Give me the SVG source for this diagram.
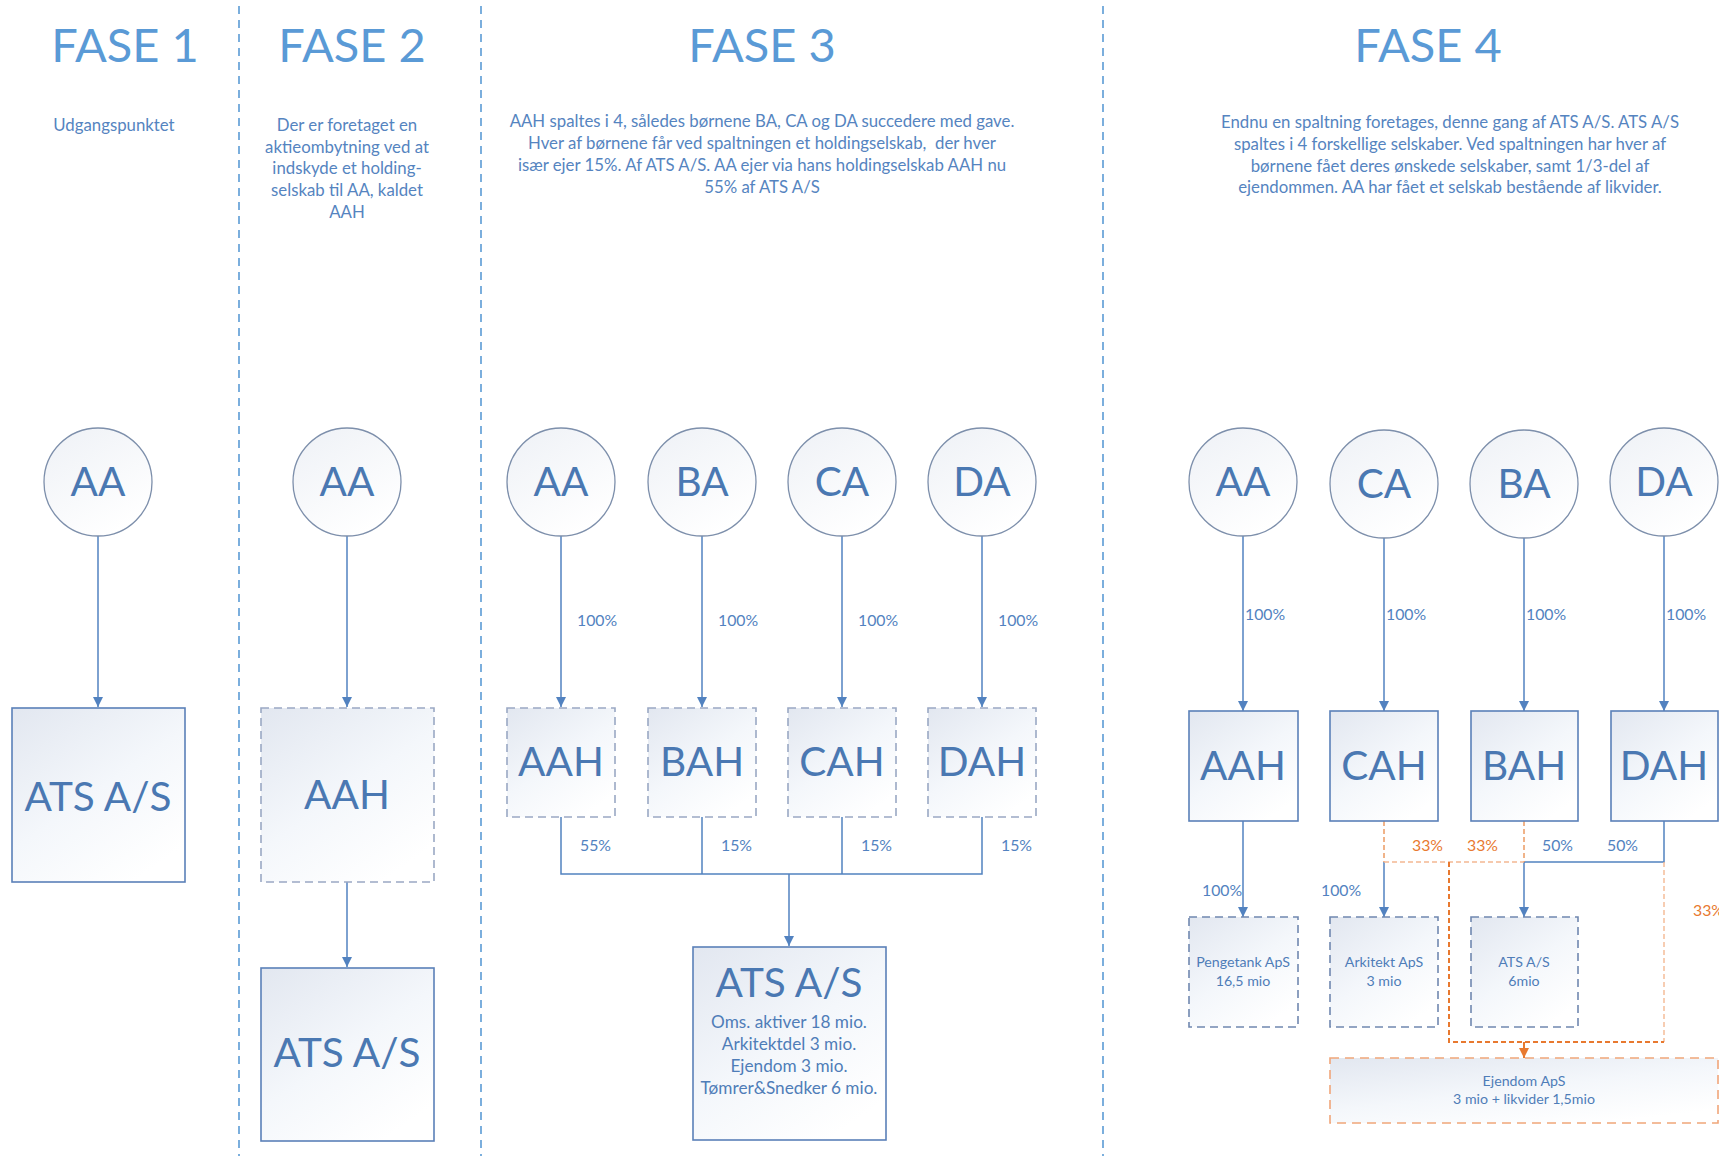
<svg xmlns="http://www.w3.org/2000/svg" width="1719" height="1156" viewBox="0 0 1719 1156">
  <defs>
    <linearGradient id="boxFill" x1="0" y1="0" x2="0.7" y2="1">
      <stop offset="0" stop-color="#e2e7f0"/>
      <stop offset="0.55" stop-color="#f4f7fb"/>
      <stop offset="1" stop-color="#ffffff"/>
    </linearGradient>
    <linearGradient id="circleFill" x1="0" y1="0" x2="0.6" y2="1">
      <stop offset="0" stop-color="#eef1f6"/>
      <stop offset="1" stop-color="#ffffff"/>
    </linearGradient>
    <marker id="arrowBlue" markerUnits="userSpaceOnUse" markerWidth="12" markerHeight="12" refX="10" refY="5" orient="auto">
      <path d="M0,0 L10,5 L0,10 z" fill="#5282c0"/>
    </marker>
    <marker id="arrowOrange" markerUnits="userSpaceOnUse" markerWidth="12" markerHeight="12" refX="10" refY="5" orient="auto">
      <path d="M0,0 L10,5 L0,10 z" fill="#e8792f"/>
    </marker>
  </defs>
  <style>
    text { font-family: Lato, "Liberation Sans", sans-serif; }
    .title { font-size: 47px; fill: #5a9ad6; text-anchor: middle; }
    .body { font-size: 16.8px; fill: #5584c0; text-anchor: middle; }
    .big { font-size: 40.5px; fill: #4a78b2; text-anchor: middle; }
    .sub { font-size: 17.2px; fill: #4f7db8; text-anchor: middle; }
    .small { font-size: 14.2px; fill: #4f7db8; text-anchor: middle; }
    .pct { font-size: 15.8px; fill: #5282c0; }
    .pctO { font-size: 15.8px; fill: #e8792f; }
    .circ { fill: url(#circleFill); stroke: #7d8fab; stroke-width: 1.3; }
    .solid { fill: url(#boxFill); stroke: #5a80b8; stroke-width: 1.6; }
    .dash { fill: url(#boxFill); stroke: #9aa8c4; stroke-width: 1.6; stroke-dasharray: 8 5; }
    .dashD { fill: url(#boxFill); stroke: #7088b0; stroke-width: 1.6; stroke-dasharray: 8 5; }
    .dashO { fill: url(#boxFill); stroke: #f0a67a; stroke-width: 1.6; stroke-dasharray: 9 6; }
    .divider { stroke: #5b9bd5; stroke-width: 1.6; stroke-dasharray: 8 6; fill: none; }
    .link { stroke: #5282c0; stroke-width: 1.5; fill: none; }
    .arrow { stroke: #5282c0; stroke-width: 1.5; fill: none; marker-end: url(#arrowBlue); }
    .oDark { stroke: #e8792f; stroke-width: 2; stroke-dasharray: 5 3; fill: none; }
    .oMid { stroke: #ec9a63; stroke-width: 1.5; stroke-dasharray: 5 3; fill: none; }
    .oLight { stroke: #f4b892; stroke-width: 1.4; stroke-dasharray: 5 3; fill: none; }
    .oArrow { stroke: #e8792f; stroke-width: 2; fill: none; marker-end: url(#arrowOrange); }
  </style>

  <rect width="1719" height="1156" fill="#ffffff"/>

  <!-- phase separators -->
  <g id="dividers">
    <line class="divider" x1="239" y1="6" x2="239" y2="1156"/>
    <line class="divider" x1="481" y1="6" x2="481" y2="1156"/>
    <line class="divider" x1="1103" y1="6" x2="1103" y2="1156"/>
  </g>

  <!-- headings and descriptions -->
  <g id="headings">
    <text class="title" x="125" y="62">FASE 1</text>
    <text class="title" x="352" y="62">FASE 2</text>
    <text class="title" x="762" y="62">FASE 3</text>
    <text class="title" x="1428" y="62">FASE 4</text>

    <text class="body" x="114" y="131">Udgangspunktet</text>

    <text class="body" x="347" y="131">Der er foretaget en</text>
    <text class="body" x="347" y="153">aktieombytning ved at</text>
    <text class="body" x="347" y="174">indskyde et holding-</text>
    <text class="body" x="347" y="196">selskab til AA, kaldet</text>
    <text class="body" x="347" y="218">AAH</text>

    <text class="body" x="762" y="127">AAH spaltes i 4, således børnene BA, CA og DA succedere med gave.</text>
    <text class="body" x="762" y="149">Hver af børnene får ved spaltningen et holdingselskab, &#160;der hver</text>
    <text class="body" x="762" y="171">især ejer 15%. Af ATS A/S. AA ejer via hans holdingselskab AAH nu</text>
    <text class="body" x="762" y="193">55% af ATS A/S</text>

    <text class="body" x="1450" y="128">Endnu en spaltning foretages, denne gang af ATS A/S. ATS A/S</text>
    <text class="body" x="1450" y="150">spaltes i 4 forskellige selskaber. Ved spaltningen har hver af</text>
    <text class="body" x="1450" y="172">børnene fået deres ønskede selskaber, samt 1/3-del af</text>
    <text class="body" x="1450" y="193">ejendommen. AA har fået et selskab bestående af likvider.</text>
  </g>

  <!-- connectors -->
  <g id="connectors">
    <!-- phase 1 -->
    <line class="arrow" x1="98" y1="536" x2="98" y2="707"/>
    <!-- phase 2 -->
    <line class="arrow" x1="347" y1="536" x2="347" y2="707"/>
    <line class="arrow" x1="347" y1="882" x2="347" y2="967"/>
    <!-- phase 3 owners to holdings -->
    <line class="arrow" x1="561" y1="536" x2="561" y2="707"/>
    <line class="arrow" x1="702" y1="536" x2="702" y2="707"/>
    <line class="arrow" x1="842" y1="536" x2="842" y2="707"/>
    <line class="arrow" x1="982" y1="536" x2="982" y2="707"/>
    <!-- phase 3 holdings to ATS A/S -->
    <path class="link" d="M561,817 V874 H982 V817 M702,817 V874 M842,817 V874"/>
    <line class="arrow" x1="789" y1="874" x2="789" y2="946"/>
    <!-- phase 4 owners to holdings -->
    <line class="arrow" x1="1243" y1="536" x2="1243" y2="711"/>
    <line class="arrow" x1="1384" y1="538" x2="1384" y2="711"/>
    <line class="arrow" x1="1524" y1="538" x2="1524" y2="711"/>
    <line class="arrow" x1="1664" y1="536" x2="1664" y2="711"/>
    <!-- phase 4 holdings to companies -->
    <line class="arrow" x1="1243" y1="821" x2="1243" y2="917"/>
    <line class="arrow" x1="1384" y1="862" x2="1384" y2="917"/>
    <line class="arrow" x1="1524" y1="862" x2="1524" y2="917"/>
    <path class="link" d="M1664,821 V862 H1524"/>
    <!-- property shares -->
    <path class="oMid" d="M1384,821 V862 M1524,821 V862"/>
    <path class="oLight" d="M1384,862 H1524"/>
    <path class="oLight" d="M1664,862 V1042"/>
    <path class="oDark" d="M1449,862 V1042 H1664"/>
    <line class="oArrow" x1="1524" y1="1042" x2="1524" y2="1058"/>
  </g>

  <!-- connector labels -->
  <g id="labels">
    <text class="pct" x="577" y="626">100%</text>
    <text class="pct" x="718" y="626">100%</text>
    <text class="pct" x="858" y="626">100%</text>
    <text class="pct" x="998" y="626">100%</text>
    <text class="pct" x="580" y="851">55%</text>
    <text class="pct" x="721" y="851">15%</text>
    <text class="pct" x="861" y="851">15%</text>
    <text class="pct" x="1001" y="851">15%</text>

    <text class="pct" x="1245" y="620">100%</text>
    <text class="pct" x="1386" y="620">100%</text>
    <text class="pct" x="1526" y="620">100%</text>
    <text class="pct" x="1666" y="620">100%</text>

    <text class="pct" x="1202" y="896">100%</text>
    <text class="pct" x="1321" y="896">100%</text>
    <text class="pctO" x="1412" y="851">33%</text>
    <text class="pctO" x="1467" y="851">33%</text>
    <text class="pct" x="1542" y="851">50%</text>
    <text class="pct" x="1607" y="851">50%</text>
    <text class="pctO" x="1693" y="916">33%</text>
  </g>

  <!-- phase 1 -->
  <g id="p1-aa">
    <circle class="circ" cx="98" cy="482" r="54"/>
    <text class="big" x="98" y="496">AA</text>
  </g>
  <g id="p1-ats">
    <rect class="solid" x="12" y="708" width="173" height="174"/>
    <text class="big" x="98" y="811">ATS A/S</text>
  </g>

  <!-- phase 2 -->
  <g id="p2-aa">
    <circle class="circ" cx="347" cy="482" r="54"/>
    <text class="big" x="347" y="496">AA</text>
  </g>
  <g id="p2-aah">
    <rect class="dash" x="261" y="708" width="173" height="174"/>
    <text class="big" x="347" y="809">AAH</text>
  </g>
  <g id="p2-ats">
    <rect class="solid" x="261" y="968" width="173" height="173"/>
    <text class="big" x="347" y="1067">ATS A/S</text>
  </g>

  <!-- phase 3 -->
  <g id="p3-aa">
    <circle class="circ" cx="561" cy="482" r="54"/>
    <text class="big" x="561" y="496">AA</text>
  </g>
  <g id="p3-ba">
    <circle class="circ" cx="702" cy="482" r="54"/>
    <text class="big" x="702" y="496">BA</text>
  </g>
  <g id="p3-ca">
    <circle class="circ" cx="842" cy="482" r="54"/>
    <text class="big" x="842" y="496">CA</text>
  </g>
  <g id="p3-da">
    <circle class="circ" cx="982" cy="482" r="54"/>
    <text class="big" x="982" y="496">DA</text>
  </g>
  <g id="p3-aah">
    <rect class="dash" x="507" y="708" width="108" height="109"/>
    <text class="big" x="561" y="776">AAH</text>
  </g>
  <g id="p3-bah">
    <rect class="dash" x="648" y="708" width="108" height="109"/>
    <text class="big" x="702" y="776">BAH</text>
  </g>
  <g id="p3-cah">
    <rect class="dash" x="788" y="708" width="108" height="109"/>
    <text class="big" x="842" y="776">CAH</text>
  </g>
  <g id="p3-dah">
    <rect class="dash" x="928" y="708" width="108" height="109"/>
    <text class="big" x="982" y="776">DAH</text>
  </g>
  <g id="p3-ats">
    <rect class="solid" x="693" y="947" width="193" height="193"/>
    <text class="big" x="789" y="997">ATS A/S</text>
    <text class="sub" x="789" y="1028">Oms. aktiver 18 mio.</text>
    <text class="sub" x="789" y="1050">Arkitektdel 3 mio.</text>
    <text class="sub" x="789" y="1072">Ejendom 3 mio.</text>
    <text class="sub" x="789" y="1094">Tømrer&amp;Snedker 6 mio.</text>
  </g>

  <!-- phase 4 -->
  <g id="p4-aa">
    <circle class="circ" cx="1243" cy="482" r="54"/>
    <text class="big" x="1243" y="496">AA</text>
  </g>
  <g id="p4-ca">
    <circle class="circ" cx="1384" cy="484" r="54"/>
    <text class="big" x="1384" y="498">CA</text>
  </g>
  <g id="p4-ba">
    <circle class="circ" cx="1524" cy="484" r="54"/>
    <text class="big" x="1524" y="498">BA</text>
  </g>
  <g id="p4-da">
    <circle class="circ" cx="1664" cy="482" r="54"/>
    <text class="big" x="1664" y="496">DA</text>
  </g>
  <g id="p4-aah">
    <rect class="solid" x="1189" y="711" width="109" height="110"/>
    <text class="big" x="1243" y="780">AAH</text>
  </g>
  <g id="p4-cah">
    <rect class="solid" x="1330" y="711" width="108" height="110"/>
    <text class="big" x="1384" y="780">CAH</text>
  </g>
  <g id="p4-bah">
    <rect class="solid" x="1471" y="711" width="107" height="110"/>
    <text class="big" x="1524" y="780">BAH</text>
  </g>
  <g id="p4-dah">
    <rect class="solid" x="1611" y="711" width="107" height="110"/>
    <text class="big" x="1664" y="780">DAH</text>
  </g>
  <g id="p4-pengetank">
    <rect class="dashD" x="1189" y="917" width="109" height="110"/>
    <text class="small" x="1243" y="967">Pengetank ApS</text>
    <text class="small" x="1243" y="986">16,5 mio</text>
  </g>
  <g id="p4-arkitekt">
    <rect class="dashD" x="1330" y="917" width="108" height="110"/>
    <text class="small" x="1384" y="967">Arkitekt ApS</text>
    <text class="small" x="1384" y="986">3 mio</text>
  </g>
  <g id="p4-ats">
    <rect class="dashD" x="1471" y="917" width="107" height="110"/>
    <text class="small" x="1524" y="967">ATS A/S</text>
    <text class="small" x="1524" y="986">6mio</text>
  </g>
  <g id="p4-ejendom">
    <rect class="dashO" x="1330" y="1058" width="388" height="65"/>
    <text class="small" x="1524" y="1086">Ejendom ApS</text>
    <text class="small" x="1524" y="1104">3 mio + likvider 1,5mio</text>
  </g>
</svg>
